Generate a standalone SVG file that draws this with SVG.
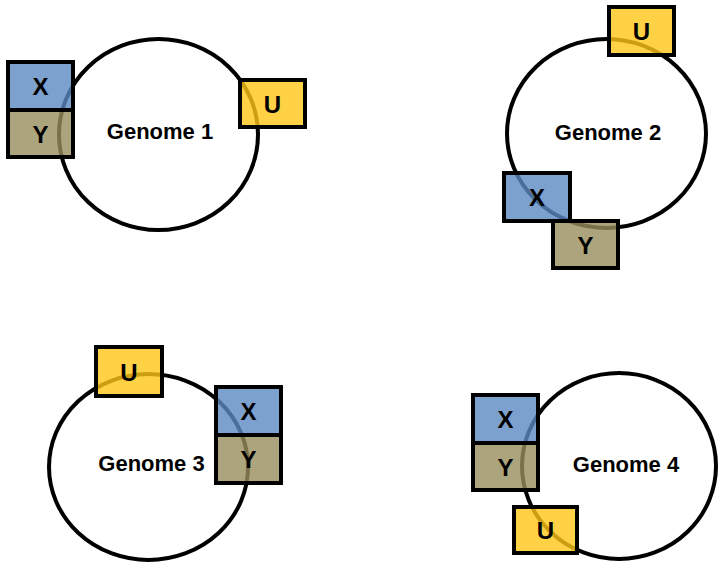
<svg xmlns="http://www.w3.org/2000/svg" width="719" height="564" viewBox="0 0 719 564">
  <style>
    .genome { fill: #ffffff; stroke: #000000; stroke-width: 4; }
    .box { stroke: #000000; stroke-width: 4; fill-opacity: 0.8; }
    .x { fill: #5c8ac2; }
    .y { fill: #968d5b; }
    .u { fill: #ffc718; }
    .title { font-family: "Liberation Sans", Arial, sans-serif; font-weight: bold; font-size: 22px; fill: #000000; text-anchor: middle; }
    .gene { font-family: "Liberation Sans", Arial, sans-serif; font-weight: bold; font-size: 24px; fill: #000000; text-anchor: middle; }
  </style>
  <rect width="719" height="564" fill="#ffffff"/>

  <g id="genome1">
    <ellipse class="genome" cx="158.5" cy="134.5" rx="99.5" ry="95.5"/>
    <text class="title" x="160" y="139">Genome 1</text>
    <rect class="box x" x="8" y="62" width="65" height="48"/>
    <rect class="box y" x="8" y="110" width="65" height="47"/>
    <rect class="box u" x="240" y="80" width="65" height="47"/>
    <text class="gene" x="40.5" y="95">X</text>
    <text class="gene" x="40.5" y="142.5">Y</text>
    <text class="gene" x="272.5" y="112.5">U</text>
  </g>

  <g id="genome2">
    <ellipse class="genome" cx="606.5" cy="133.5" rx="99.5" ry="94.5"/>
    <text class="title" x="608" y="140">Genome 2</text>
    <rect class="box u" x="609" y="7" width="65" height="48"/>
    <rect class="box x" x="504" y="173" width="66" height="48"/>
    <rect class="box y" x="553" y="221" width="65" height="47"/>
    <text class="gene" x="641.5" y="40">U</text>
    <text class="gene" x="537" y="206">X</text>
    <text class="gene" x="585.5" y="253.5">Y</text>
  </g>

  <g id="genome3">
    <ellipse class="genome" cx="148.5" cy="467" rx="99.5" ry="93"/>
    <text class="title" x="151.5" y="471">Genome 3</text>
    <rect class="box u" x="96" y="347" width="66" height="49"/>
    <rect class="box x" x="216" y="387" width="65" height="48"/>
    <rect class="box y" x="216" y="435" width="65" height="48"/>
    <text class="gene" x="129" y="380.5">U</text>
    <text class="gene" x="248.5" y="420">X</text>
    <text class="gene" x="248.5" y="468">Y</text>
  </g>

  <g id="genome4">
    <ellipse class="genome" cx="619" cy="466" rx="97" ry="93"/>
    <text class="title" x="626" y="472">Genome 4</text>
    <rect class="box x" x="473" y="395" width="65" height="48"/>
    <rect class="box y" x="473" y="443" width="65" height="47"/>
    <rect class="box u" x="514" y="507" width="63" height="46"/>
    <text class="gene" x="505.5" y="428">X</text>
    <text class="gene" x="505.5" y="475.5">Y</text>
    <text class="gene" x="545.5" y="539">U</text>
  </g>
</svg>
